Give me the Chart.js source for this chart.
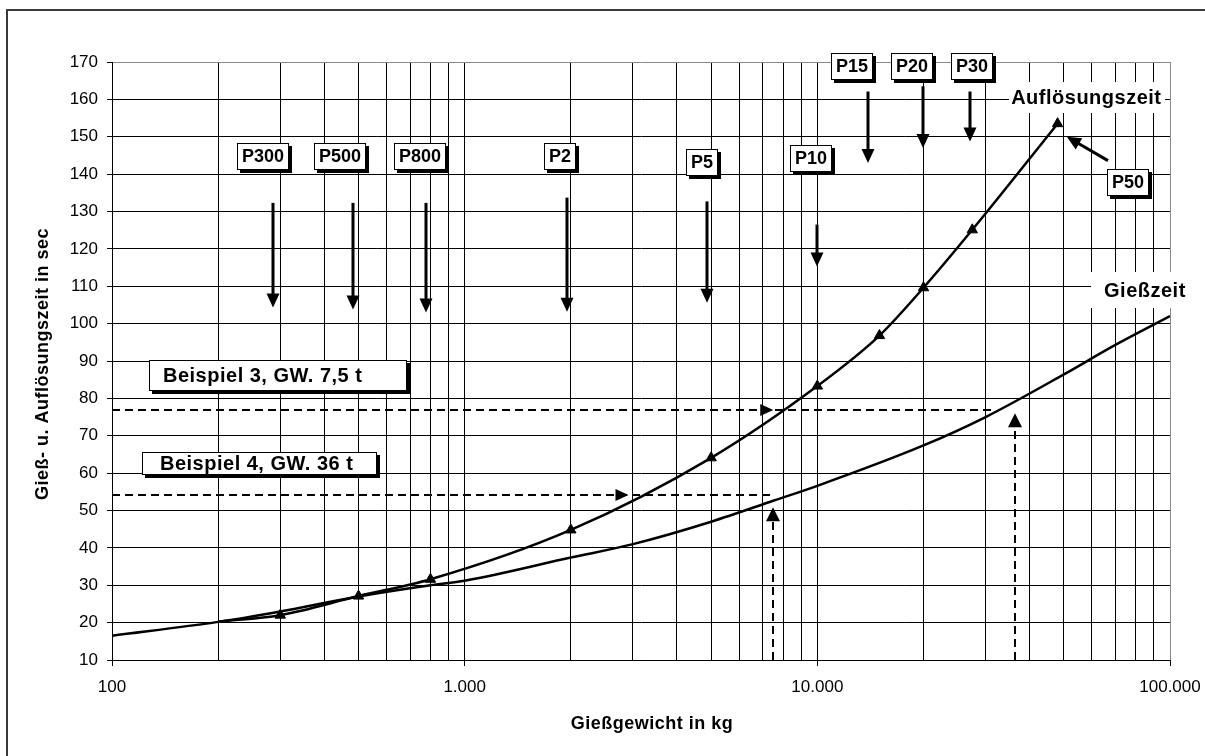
<!DOCTYPE html>
<html>
<head>
<meta charset="utf-8">
<script src="https://cdn.jsdelivr.net/npm/chart.js@4.4.1/dist/chart.umd.min.js"></script>
<style>
  html, body { margin: 0; padding: 0; background: #fff; }
  canvas { display: block; }
</style>
</head>
<body>
<canvas id="chart" width="1205" height="756"></canvas>
<script>
// Gießzeit curve (kg -> sec)
const giessWeights = [100, 200, 300, 500, 800, 1000, 2000, 3000, 5000, 7500, 10000, 20000, 30000, 50000, 70000, 100000];
const giessTimes = [16.5, 20.2, 23, 27, 30, 31.2, 37.4, 41, 47, 52.6, 56.6, 67.4, 75, 86.4, 94.3, 102];

// Auflösungszeit curve (kg -> sec), first point has no marker
const aufWeights = [200, 300, 500, 800, 2000, 5000, 10000, 15000, 20000, 27500, 48000];
const aufTimes = [20.3, 22, 27.1, 31.6, 44.8, 64.1, 83.3, 96.8, 109.6, 125.1, 153.5];

// axes
const yTickValues = [10, 20, 30, 40, 50, 60, 70, 80, 90, 100, 110, 120, 130, 140, 150, 160, 170];
const decadeValues = [100, 1000, 10000, 100000];
const decadeLabels = ['100', '1.000', '10.000', '100.000'];

// P labels: box centre (kg, sec) and arrow (kg, from sec, to sec)
const pLabels = [
  { text: 'P300', x: 268, y: 144.6, ax: 286, from: 132.3, to: 104.3 },
  { text: 'P500', x: 443, y: 144.6, ax: 481, from: 132.3, to: 103.8 },
  { text: 'P800', x: 748, y: 144.6, ax: 775, from: 132.3, to: 103.0 },
  { text: 'P2', x: 1865, y: 144.6, ax: 1945, from: 133.7, to: 103.2 },
  { text: 'P5', x: 4709, y: 143.2, ax: 4874, from: 132.7, to: 105.6 },
  { text: 'P10', x: 9586, y: 144.2, ax: 9960, from: 126.5, to: 115.3 },
  { text: 'P15', x: 12570, y: 168.8, ax: 13930, from: 162.1, to: 143.0 },
  { text: 'P20', x: 18520, y: 168.8, ax: 19950, from: 163.5, to: 147.0 },
  { text: 'P30', x: 27390, y: 168.8, ax: 27100, from: 162.1, to: 148.7 }
];
const p50 = { text: 'P50', x: 76030, y: 137.8, fromX: 66700, fromY: 143.6, toX: 51000, toY: 150.0 };

// example boxes and dashed helper lines
const examples = [
  { text: 'Beispiel 3, GW. 7,5 t', x1: 127.3, x2: 688, y1: 90.4, y2: 82.1, tx: 139.5 },
  { text: 'Beispiel 4, GW. 36 t', x1: 121.6, x2: 563, y1: 65.6, y2: 59.5, tx: 136.8 }
];
const dashH = [
  { y: 54.1, x1: 100, x2: 7500, tip: 2915 },
  { y: 76.8, x1: 100, x2: 32000, tip: 7500 }
];
const dashV = [
  { x: 7500, y1: 10, y2: 50.9 },
  { x: 36300, y1: 10, y2: 76.0 }
];
const curveLabels = [
  { text: 'Auflösungszeit', x1: 34990, x2: 96800, y1: 164.7, y2: 156.4, tx: 35450 },
  { text: 'Gießzeit', x1: 59700, x2: 114800, y1: 113.9, y2: 104.3, tx: 65000 }
];

const FONT = '"Liberation Sans", Arial, sans-serif';

function toXY(xs, ys) {
  return xs.map((x, i) => ({ x: x, y: ys[i] }));
}

function gridValues() {
  const vals = [];
  decadeValues.slice(0, -1).forEach(d => {
    for (let m = 1; m < 10; m++) vals.push(d * m);
  });
  vals.push(decadeValues[decadeValues.length - 1]);
  return vals;
}

function arrowHead(ctx, tx, ty, dx, dy, len, half) {
  const bx = tx - dx * len, by = ty - dy * len;
  ctx.beginPath();
  ctx.moveTo(tx, ty);
  ctx.lineTo(bx - dy * half, by + dx * half);
  ctx.lineTo(bx + dy * half, by - dx * half);
  ctx.closePath();
  ctx.fill();
}

function arrow(ctx, x1, y1, x2, y2) {
  const len = Math.hypot(x2 - x1, y2 - y1);
  const dx = (x2 - x1) / len, dy = (y2 - y1) / len;
  ctx.lineWidth = 3;
  ctx.beginPath();
  ctx.moveTo(x1, y1);
  ctx.lineTo(x2 - dx * 10, y2 - dy * 10);
  ctx.stroke();
  arrowHead(ctx, x2, y2, dx, dy, 14, 6.5);
}

function shadowBox(ctx, l, t, w, h) {
  ctx.fillStyle = '#000';
  ctx.fillRect(l + 3, t + 3, w, h);
  ctx.fillStyle = '#fff';
  ctx.fillRect(l, t, w, h);
  ctx.strokeStyle = '#000';
  ctx.lineWidth = 1;
  ctx.strokeRect(l + 0.5, t + 0.5, w - 1, h - 1);
}

const annotations = {
  id: 'annotations',
  beforeDraw(chart) {
    const ctx = chart.ctx;
    ctx.save();
    ctx.fillStyle = '#fff';
    ctx.fillRect(0, 0, chart.width, chart.height);
    ctx.restore();
  },
  beforeDatasetsDraw(chart) {
    const { ctx, scales: { x, y } } = chart;
    ctx.save();
    ctx.strokeStyle = '#000';
    ctx.fillStyle = '#000';
    ctx.lineWidth = 2;
    ctx.setLineDash([8, 5]);
    dashH.forEach(d => {
      const py = Math.round(y.getPixelForValue(d.y));
      ctx.beginPath();
      ctx.moveTo(x.getPixelForValue(d.x1), py);
      ctx.lineTo(x.getPixelForValue(d.x2), py);
      ctx.stroke();
    });
    dashV.forEach(d => {
      const px = Math.round(x.getPixelForValue(d.x));
      ctx.beginPath();
      ctx.moveTo(px, y.getPixelForValue(d.y1));
      ctx.lineTo(px, y.getPixelForValue(d.y2) + 6);
      ctx.stroke();
    });
    ctx.setLineDash([]);
    dashH.forEach(d => {
      arrowHead(ctx, x.getPixelForValue(d.tip), Math.round(y.getPixelForValue(d.y)), 1, 0, 13, 6);
    });
    dashV.forEach(d => {
      arrowHead(ctx, Math.round(x.getPixelForValue(d.x)), y.getPixelForValue(d.y2), 0, -1, 14, 7);
    });
    ctx.restore();
  },
  afterDatasetsDraw(chart) {
    const { ctx, scales: { x, y } } = chart;
    ctx.save();
    ctx.strokeStyle = '#000';
    ctx.fillStyle = '#000';

    // arrows from the P labels
    pLabels.forEach(p => {
      const px = Math.round(x.getPixelForValue(p.ax));
      arrow(ctx, px, y.getPixelForValue(p.from), px, y.getPixelForValue(p.to));
    });
    ctx.fillStyle = '#000';
    arrow(ctx, x.getPixelForValue(p50.fromX), y.getPixelForValue(p50.fromY),
      x.getPixelForValue(p50.toX), y.getPixelForValue(p50.toY));

    // P label boxes
    ctx.font = 'bold 18px ' + FONT;
    ctx.textAlign = 'center';
    ctx.textBaseline = 'middle';
    pLabels.concat([p50]).forEach(p => {
      const cx = x.getPixelForValue(p.x), cy = y.getPixelForValue(p.y);
      const w = Math.round(ctx.measureText(p.text).width + 10), h = 27;
      const l = Math.round(cx - w / 2), t = Math.round(cy - h / 2);
      shadowBox(ctx, l, t, w, h);
      ctx.fillStyle = '#000';
      ctx.fillText(p.text, l + w / 2, t + h / 2 + 1);
    });

    // Beispiel boxes
    ctx.font = 'bold 20px ' + FONT;
    ctx.letterSpacing = '0.5px';
    ctx.textAlign = 'left';
    examples.forEach(b => {
      const l = Math.round(x.getPixelForValue(b.x1)), r = Math.round(x.getPixelForValue(b.x2));
      const t = Math.round(y.getPixelForValue(b.y1)), bt = Math.round(y.getPixelForValue(b.y2));
      shadowBox(ctx, l, t, r - l, bt - t);
      ctx.fillStyle = '#000';
      ctx.fillText(b.text, x.getPixelForValue(b.tx), (t + bt) / 2 + 1);
    });

    // curve names on white
    curveLabels.forEach(c => {
      const l = Math.round(x.getPixelForValue(c.x1)), r = Math.round(x.getPixelForValue(c.x2));
      const t = Math.round(y.getPixelForValue(c.y1)), bt = Math.round(y.getPixelForValue(c.y2));
      ctx.fillStyle = '#fff';
      ctx.fillRect(l, t, r - l, bt - t);
      ctx.fillStyle = '#000';
      ctx.fillText(c.text, x.getPixelForValue(c.tx), (t + bt) / 2 + 1);
    });

    // axis titles
    ctx.font = 'bold 18px ' + FONT;
    ctx.textAlign = 'center';
    ctx.fillText('Gießgewicht in kg', 652, 724);
    ctx.translate(43, 364);
    ctx.rotate(-Math.PI / 2);
    ctx.fillText('Gieß- u. Auflösungszeit in sec', 0, 0);
    ctx.restore();

    // outer frame
    ctx.save();
    ctx.strokeStyle = '#3a3a3a';
    ctx.lineWidth = 2;
    ctx.beginPath();
    ctx.moveTo(7, chart.height + 2);
    ctx.lineTo(7, 10);
    ctx.lineTo(chart.width + 2, 10);
    ctx.stroke();
    ctx.restore();
  }
};

const ctx = document.getElementById('chart').getContext('2d');
const chart = new Chart(ctx, {
  type: 'line',
  data: {
    datasets: [
      {
        label: 'Auflösungszeit',
        data: toXY(aufWeights, aufTimes),
        borderColor: '#000',
        backgroundColor: '#000',
        borderWidth: 2.5,
        pointStyle: 'triangle',
        pointRadius: c => (c.dataIndex === 0 ? 0 : 6),
        pointBackgroundColor: '#000',
        pointBorderColor: '#000',
        pointBorderWidth: 1,
        cubicInterpolationMode: 'monotone',
        fill: false
      },
      {
        label: 'Gießzeit',
        data: toXY(giessWeights, giessTimes),
        borderColor: '#000',
        borderWidth: 2.5,
        pointRadius: 0,
        cubicInterpolationMode: 'monotone',
        fill: false
      }
    ]
  },
  options: {
    responsive: false,
    animation: false,
    devicePixelRatio: 1,
    layout: { padding: { left: 0, right: 35, top: 62, bottom: 0 } },
    plugins: {
      legend: { display: false },
      tooltip: { enabled: false }
    },
    scales: {
      x: {
        type: 'logarithmic',
        min: 100,
        max: 100000,
        afterBuildTicks: s => { s.ticks = gridValues().map(v => ({ value: v })); },
        afterFit: s => { s.height = 96; s.paddingLeft = 0; s.paddingRight = 0; },
        ticks: {
          autoSkip: false,
          maxRotation: 0,
          padding: 11,
          color: '#000',
          font: { family: FONT, size: 17 },
          callback: v => {
            const i = decadeValues.indexOf(v);
            return i >= 0 ? decadeLabels[i] : '';
          }
        },
        grid: {
          color: c => (c.tick && c.tick.value === 100000 ? '#8a8a8a' : '#000'),
          lineWidth: 1,
          tickLength: 6,
          tickColor: c => (c.tick && decadeValues.includes(c.tick.value) ? '#000' : 'rgba(0,0,0,0)')
        },
        border: { color: '#000', width: 1 }
      },
      y: {
        min: 10,
        max: 170,
        afterBuildTicks: s => { s.ticks = yTickValues.map(v => ({ value: v })); },
        afterFit: s => { s.width = 112; s.paddingTop = 0; s.paddingBottom = 0; },
        ticks: {
          padding: 9,
          color: '#000',
          font: { family: FONT, size: 17 }
        },
        grid: {
          color: c => (c.tick && c.tick.value === 170 ? '#8a8a8a' : '#000'),
          lineWidth: 1,
          tickLength: 5,
          tickColor: '#000'
        },
        border: { color: '#000', width: 1 }
      }
    }
  },
  plugins: [annotations]
});
</script>
</body>
</html>
